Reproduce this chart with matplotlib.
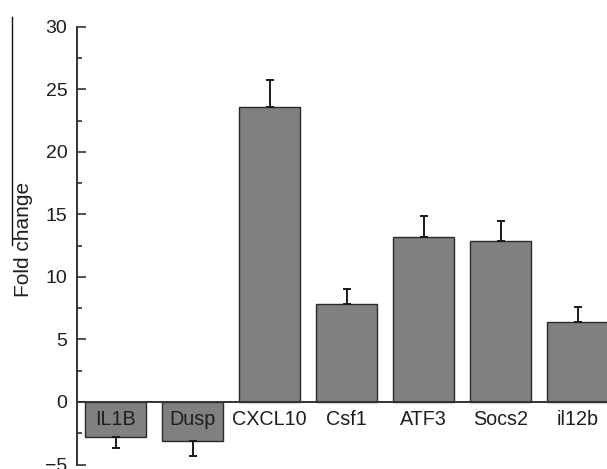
import matplotlib
matplotlib.use("Agg")
import matplotlib.pyplot as plt
from matplotlib.lines import Line2D
from matplotlib.ticker import MultipleLocator
import numpy as np

categories = ["IL1B", "Dusp", "CXCL10", "Csf1", "ATF3", "Socs2", "il12b"]
values = [-2.83, -3.16, 23.57, 7.82, 13.17, 12.87, 6.36]
errors = [0.87, 1.14, 2.13, 1.25, 1.67, 1.63, 1.20]
ytick_values = [-5, 0, 5, 10, 15, 20, 25, 30]

plt.rcParams['font.family'] = ['Liberation Sans', 'DejaVu Sans']

fig = plt.figure(figsize=(6.07, 4.69), dpi=100)
ax = fig.add_axes([77/607, 1 - 464.5/469, 1 - 77/607, (464.5 - 26.7)/469])

x = np.arange(len(categories))
vals = np.array(values)
errs = np.array(errors)
lower = np.where(vals < 0, errs, 0)
upper = np.where(vals >= 0, errs, 0)

ax.bar(x, vals, width=0.8, color='#808080', edgecolor='#2a2a2a', linewidth=1.0, zorder=2)
ax.errorbar(x, vals, yerr=[lower, upper], fmt='none', ecolor='#1a1a1a',
            elinewidth=1.4, capsize=3, capthick=1.4, zorder=3)

ax.axhline(0, color='#333333', lw=1.4, zorder=4)

for xi, name in zip(x, categories):
    ax.text(xi, -1.4, name, ha='center', va='center', fontsize=14.2,
            color='#1e1e1e', zorder=5)

ax.set_xlim(-0.5, 6.383)
ax.set_ylim(-5, 30)
ax.set_yticks(ytick_values)
ax.yaxis.set_minor_locator(MultipleLocator(2.5))
ax.set_xticks([])

for s in ['top', 'right', 'bottom']:
    ax.spines[s].set_visible(False)
ax.spines['left'].set_color('#333333')
ax.spines['left'].set_linewidth(1.4)

ax.tick_params(axis='y', which='major', direction='in', length=6.5, width=1.2,
               color='#333333', labelsize=14, labelcolor='#1e1e1e', pad=7)
ax.tick_params(axis='y', which='minor', direction='in', length=3.5, width=1.2,
               color='#333333')

fig.text(24/607, 1 - 239/469, "Fold change", rotation=90, ha='center', va='center',
         fontsize=15, color='#1e1e1e')
fig.add_artist(Line2D([12/607, 12/607], [1 - 17/469, 1 - 245/469],
                      transform=fig.transFigure, color='#111111', lw=1.0))

fig.savefig("out.png", dpi=100)
